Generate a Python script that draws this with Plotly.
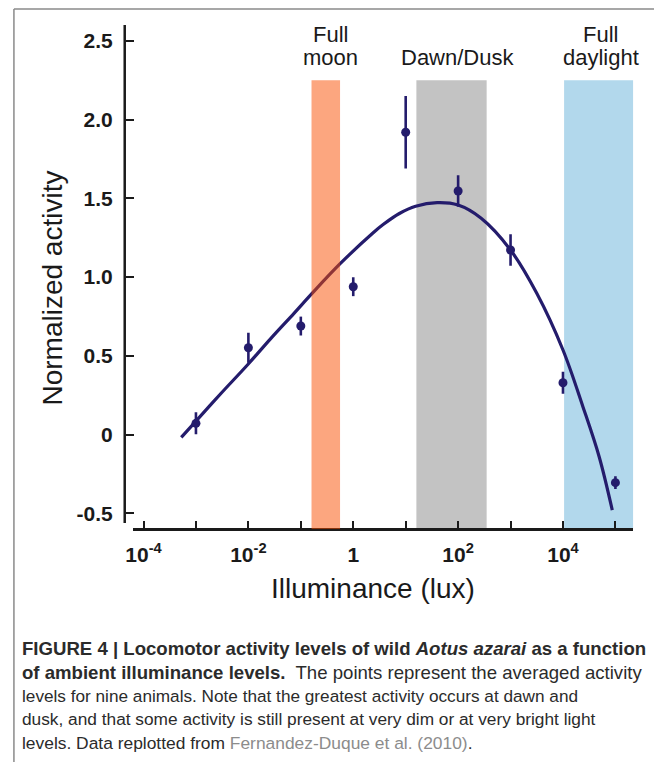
import plotly.graph_objects as go

W, H = 654, 767

# ---------------- data ----------------
lux = [1e-3, 1e-2, 1e-1, 1, 10, 100, 1e3, 1e4, 1e5]
activity = [0.071, 0.551, 0.689, 0.939, 1.92, 1.547, 1.172, 0.329, -0.306]
activity_err = [0.07, 0.095, 0.06, 0.06, 0.23, 0.10, 0.10, 0.07, 0.04]

# fitted curve (log10 lux, activity)
curve_loglux = [-3.28, -3.03, -2.52, -2.01, -1.57, -1.13, -0.79, -0.25, 0.38, 0.57, 0.88,
                1.19, 1.60, 2.00, 2.44, 3.00, 3.50, 4.00, 4.38, 4.69, 4.94]
curve_activity = [-0.018, 0.074, 0.262, 0.445, 0.611, 0.770, 0.895, 1.085, 1.282, 1.334, 1.404,
                  1.450, 1.473, 1.458, 1.374, 1.172, 0.897, 0.537, 0.177, -0.141, -0.480]
curve_lux = [10 ** v for v in curve_loglux]

# light-condition bands (lux)
band_lo = [0.16, 16, 1.05e4]
band_hi = [0.56, 350, 2.2e5]
band_top = 2.25
band_label_lines = [["Full", "moon"], ["", "Dawn/Dusk"], ["Full", "daylight"]]

y_tickvals = [-0.5, 0, 0.5, 1.0, 1.5, 2.0, 2.5]
y_ticktext = ["-0.5", "0", "0.5", "1.0", "1.5", "2.0", "2.5"]
x_tickvals = [1e-4, 1e-2, 1, 100, 1e4]
x_ticktext = ["10<sup>-4</sup>", "10<sup>-2</sup>", "1", "10<sup>2</sup>", "10<sup>4</sup>"]
x_minorvals = [1e-3, 1e-1, 10, 1e3, 1e5]

caption_lines = [
    "<b>FIGURE 4 | Locomotor activity levels of wild <i>Aotus azarai</i> as a function</b>",
    "<b>of ambient illuminance levels.</b>  The points represent the averaged activity",
    "levels for nine animals. Note that the greatest activity occurs at dawn and",
    "dusk, and that some activity is still present at very dim or at very bright light",
    "levels. Data replotted from <span style='color:#8c8c8c'>Fernandez-Duque et al. (2010)</span>.",
]
caption_size = [18.6, 18.6, 17.2, 17.3, 17.4]

# ---------------- layout geometry (pixels) ----------------
def px(x):
    return x / W

def py(y):
    return 1 - y / H

PLOT_L, PLOT_R = 127, 633      # x-axis line extent
Y_TOP, X_LINE = 25, 529.3      # top of y axis, x-axis line
YAX_X = 119
Y_ZERO, Y_UNIT = 434.5, 157.4  # pixel of y=0, pixels per unit
DEC0, DEC = 350, 53.0          # pixel of 1 lux, pixels per decade

xr = [(PLOT_L - DEC0) / DEC, (PLOT_R - DEC0) / DEC]
yr = [(Y_ZERO - X_LINE) / Y_UNIT, (Y_ZERO - Y_TOP) / Y_UNIT]
y_axis_bottom = (Y_ZERO - 523) / Y_UNIT

NAVY = "#241c6c"
INK = "#1a1a1a"
FONT = "Liberation Sans, Arial, sans-serif"

fig = go.Figure()

fig.add_trace(go.Scatter(
    x=curve_lux, y=curve_activity, mode="lines",
    line=dict(color=NAVY, width=3.2, shape="spline", smoothing=1.0),
    hoverinfo="skip", showlegend=False,
))
fig.add_trace(go.Scatter(
    x=lux, y=activity, mode="markers",
    marker=dict(color=NAVY, size=9),
    error_y=dict(type="data", array=activity_err, color=NAVY, thickness=2.6, width=0),
    showlegend=False,
))

shapes = []
band_fill = ["rgba(249,77,0,0.5)", "#c3c3c3", "#b2d8ec"]
band_layer = ["above", "below", "below"]
for lo, hi, c, lay in zip(band_lo, band_hi, band_fill, band_layer):
    shapes.append(dict(type="rect", xref="x", yref="y", x0=lo, x1=hi, y0=yr[0], y1=band_top,
                       fillcolor=c, line=dict(width=0), layer=lay))
# y axis line (detached from the x axis)
shapes.append(dict(type="line", xref="paper", yref="y", x0=px(YAX_X), x1=px(YAX_X),
                   y0=y_axis_bottom, y1=yr[1], line=dict(color=INK, width=2.5)))
# figure frame (top and left)
shapes.append(dict(type="line", xref="paper", yref="paper", x0=px(7), x1=1, y0=py(9), y1=py(9),
                   line=dict(color="#8a8a8a", width=1.5)))
shapes.append(dict(type="line", xref="paper", yref="paper", x0=px(7), x1=px(7), y0=py(9), y1=py(762),
                   line=dict(color="#8a8a8a", width=1.5)))

annotations = []
band_label_x = [327, 455, 600]
band_line_y = [34, 58]
for lines, bx in zip(band_label_lines, band_label_x):
    for txt, ly in zip(lines, band_line_y):
        if not txt:
            continue
        annotations.append(dict(xref="paper", yref="paper", x=px(bx), y=py(ly), text=txt,
                                showarrow=False, xanchor="center", yanchor="middle",
                                font=dict(family=FONT, size=22, color=INK)))
annotations.append(dict(xref="paper", yref="paper", x=px(45), y=py(288), text="Normalized activity",
                        textangle=-90, showarrow=False, xanchor="center", yanchor="middle",
                        font=dict(family=FONT, size=28, color=INK)))
annotations.append(dict(xref="paper", yref="paper", x=px(370), y=py(588), text="Illuminance (lux)",
                        showarrow=False, xanchor="center", yanchor="middle",
                        font=dict(family=FONT, size=28, color=INK)))
cap_y = [648, 672, 696, 719, 743]
for t, cy, fs in zip(caption_lines, cap_y, caption_size):
    annotations.append(dict(xref="paper", yref="paper", x=px(13), y=py(cy), text=t,
                            showarrow=False, xanchor="left", yanchor="middle", align="left",
                            font=dict(family=FONT, size=fs, color="#2b2b2b")))

fig.update_layout(
    width=W, height=H,
    margin=dict(l=0, r=0, t=0, b=0),
    paper_bgcolor="white", plot_bgcolor="white",
    shapes=shapes, annotations=annotations,
    xaxis=dict(
        type="log", range=xr, domain=[px(PLOT_L), px(PLOT_R)],
        anchor="free", position=py(X_LINE),
        showgrid=False, zeroline=False,
        showline=True, linecolor=INK, linewidth=2.5,
        ticks="inside", ticklen=8, tickwidth=2.2, tickcolor=INK,
        tickvals=x_tickvals, ticktext=x_ticktext, ticklabelstandoff=6,
        tickfont=dict(family=FONT, size=21, color=INK, weight="bold"),
        minor=dict(tickvals=x_minorvals, ticks="inside", ticklen=8, tickwidth=2.2,
                   tickcolor=INK, showgrid=False),
    ),
    yaxis=dict(
        range=yr, domain=[py(X_LINE), py(Y_TOP)],
        anchor="free", position=px(YAX_X),
        showgrid=False, zeroline=False, showline=False,
        ticks="inside", ticklen=8, tickwidth=2.2, tickcolor=INK,
        tickvals=y_tickvals, ticktext=y_ticktext, ticklabelstandoff=12,
        tickfont=dict(family=FONT, size=21, color=INK, weight="bold"),
    ),
)

fig.write_html("out.html", config={"displayModeBar": False},
               post_script="document.body.style.margin='0';document.body.style.padding='0';")
